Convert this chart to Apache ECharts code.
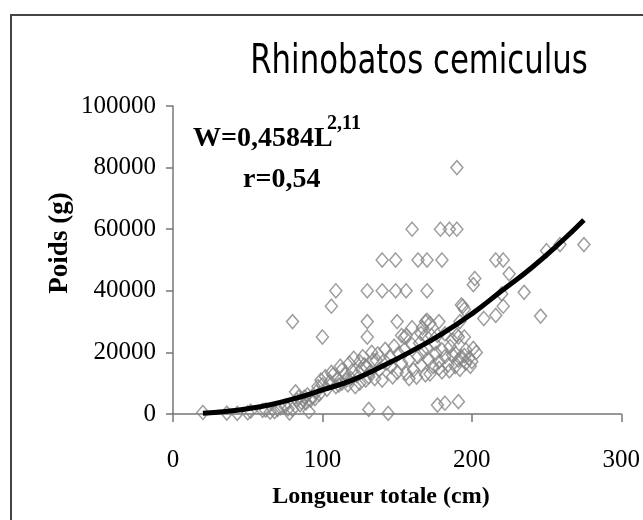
<!DOCTYPE html>
<html>
<head>
<meta charset="utf-8">
<script src="https://cdn.jsdelivr.net/npm/echarts@6/dist/echarts.min.js"></script>
<style>
  html, body { margin: 0; padding: 0; background: #fff; }
  #chart { width: 643px; height: 520px; }
</style>
</head>
<body>
<div id="chart"></div>
<script>
// longueur totale (cm) / poids (g)
var lowPoints = [
  [20, 500], [36, 300], [43, 200], [50, 400], [52, 900], [60, 1200], [62, 1300], [65, 600],
  [68, 750], [70, 1500], [72, 2000], [75, 2500], [77, 1700], [78, 300], [80, 1500], [82, 7200],
  [83, 4500], [84, 5500], [85, 3000], [86, 3800], [87, 4700], [88, 5500], [89, 3600], [90, 6200],
  [91, 750], [92, 4500], [93, 5600], [95, 5000], [98, 6500]
]
var bandPoints = [
  [96, 7200], [97, 8900], [99, 11000], [100, 9500], [102, 12100], [103, 8000], [105, 10500],
  [106, 13500], [107, 12700], [109, 8900], [110, 11500], [111, 9400], [112, 15500], [113, 10000],
  [113, 14300], [115, 13000], [116, 11000], [117, 9500], [118, 16500], [119, 11600], [120, 14000],
  [121, 18100], [122, 8900], [123, 12500], [125, 17000], [125, 10000], [126, 14500], [127, 18600],
  [128, 16000], [129, 11000], [129, 15400], [131, 12100], [132, 13500], [133, 20000], [134, 17500],
  [135, 11500], [136, 17500], [137, 19500], [138, 14300], [140, 11000], [142, 21000], [143, 16500],
  [145, 18600], [146, 15400], [147, 12100], [148, 22000], [150, 13500], [151, 19700], [153, 16500],
  [155, 21000], [156, 13200], [158, 17500], [158, 11500], [160, 22500], [161, 14300], [163, 12000],
  [164, 18600], [165, 23000], [166, 15900], [167, 20500], [169, 12700], [170, 21500], [171, 17500],
  [172, 13000], [174, 15400], [175, 23000], [176, 19700], [178, 17000], [178, 14800], [180, 13700],
  [180, 20800], [182, 18600], [184, 15900], [185, 14000], [185.5, 21900], [187, 19200], [189, 15400],
  [189, 19700], [191, 17500], [192, 14500], [193, 18600], [195, 19000], [196, 16500], [196, 20800],
  [198, 18100], [199, 15500], [200, 17000], [201, 21300], [203, 20000]
]
var highPoints = [
  [80, 30000], [100, 25000], [106, 35000], [109, 40000], [130, 40000], [130, 30000], [130, 25000],
  [140, 50000], [140, 40000], [149, 50000], [149, 40000], [150, 30000], [153, 25500], [155, 25000],
  [156, 25500], [156, 40000], [160, 60000], [160, 28000], [164, 50000], [166, 26200], [167, 28000],
  [169, 30000], [169, 25500], [170, 50000], [170, 40000], [170, 30400], [172, 29400], [173, 25500],
  [177, 25500], [178, 30000], [179, 60000], [180, 50000], [182, 26000], [185, 60000], [187, 24000],
  [190, 60000], [190, 80000], [190, 25600], [191, 25000], [192, 30000], [193, 35400], [194, 35000],
  [195, 34000], [195, 25000], [201, 42000], [202, 44000], [208, 31000], [216, 32000], [216, 50000],
  [220, 39000], [221, 35000], [221, 50000], [225, 45500], [235, 39500], [246, 31800], [250, 53000],
  [259, 55000], [275, 55000]
]
var zeroPoints = [[131, 1500], [144, 200], [177, 2900], [182, 3500], [191, 4000]]

// courbe W = 0,4584 L^2,11
var curveL = [20, 35, 50, 65, 80, 100, 120, 140, 160, 180, 200, 220, 240, 260, 275]
var curveW = [250, 800, 1700, 3000, 4800, 7800, 11000, 15500, 20500, 26000, 32500, 40000, 47500, 56000, 63000]

var xTicks = [0, 100, 200, 300]
var yTicks = [0, 20000, 40000, 60000, 80000, 100000]

var titleText = 'Rhinobatos cemiculus'
var eqMain = 'W=0,4584L'
var eqExp = '2,11'
var eqR = 'r=0,54'
var xName = 'Longueur totale (cm)'
var yName = 'Poids (g)'

var serif = "'Liberation Serif', 'Times New Roman', serif"

var scatterData = lowPoints.concat(bandPoints, highPoints, zeroPoints)
var curveData = curveL.map(function (l, i) { return [l, curveW[i]] })

var chart = echarts.init(document.getElementById('chart'))
var option = {
  animation: false,
  backgroundColor: '#fff',
  grid: { left: 173, right: 20, top: 106, bottom: 106 },
  xAxis: {
    type: 'value',
    min: xTicks[0],
    max: xTicks[xTicks.length - 1],
    interval: 100,
    splitLine: { show: false },
    axisLine: { lineStyle: { color: '#777', width: 1.5 } },
    axisTick: { length: 8, lineStyle: { color: '#777', width: 1.5 } },
    axisLabel: { color: '#000', fontFamily: serif, fontSize: 25, margin: 34, formatter: function (v) { return String(v) } }
  },
  yAxis: {
    type: 'value',
    min: yTicks[0],
    max: yTicks[yTicks.length - 1],
    interval: 20000,
    splitLine: { show: false },
    axisLine: { show: true, lineStyle: { color: '#777', width: 1.5 } },
    axisTick: { show: true, length: 7, lineStyle: { color: '#777', width: 1.5 } },
    axisLabel: { color: '#000', fontFamily: serif, fontSize: 25, margin: 17, formatter: function (v) { return String(v) } }
  },
  series: [
    {
      type: 'scatter',
      symbol: 'diamond',
      symbolSize: [12, 14],
      itemStyle: { color: 'rgba(0,0,0,0)', borderColor: '#858585', borderWidth: 1.5 },
      data: scatterData,
      z: 2
    },
    {
      type: 'line',
      smooth: true,
      showSymbol: false,
      lineStyle: { color: '#000', width: 5 },
      data: curveData,
      z: 3
    }
  ],
  graphic: [
    {
      type: 'rect',
      shape: { x: 11, y: 15, width: 700, height: 600 },
      style: { fill: 'none', stroke: '#444', lineWidth: 2 },
      z: -1
    },
    {
      type: 'text', x: 419, y: 62, scaleX: 0.75,
      style: {
        text: titleText, fill: '#000',
        font: "41px 'DejaVu Sans', sans-serif",
        textAlign: 'center', textVerticalAlign: 'middle', align: 'center', verticalAlign: 'middle'
      }
    },
    {
      type: 'text', x: 193, y: 139,
      style: {
        text: eqMain, fill: '#000', font: 'bold 28px ' + serif,
        textAlign: 'left', textVerticalAlign: 'middle', align: 'left', verticalAlign: 'middle'
      }
    },
    {
      type: 'text', x: 327, y: 124,
      style: {
        text: eqExp, fill: '#000', font: 'bold 20px ' + serif,
        textAlign: 'left', textVerticalAlign: 'middle', align: 'left', verticalAlign: 'middle'
      }
    },
    {
      type: 'text', x: 243, y: 180,
      style: {
        text: eqR, fill: '#000', font: 'bold 28px ' + serif,
        textAlign: 'left', textVerticalAlign: 'middle', align: 'left', verticalAlign: 'middle'
      }
    },
    {
      type: 'text', x: 381, y: 497,
      style: {
        text: xName, fill: '#000', font: 'bold 24px ' + serif,
        textAlign: 'center', textVerticalAlign: 'middle', align: 'center', verticalAlign: 'middle'
      }
    },
    {
      type: 'text', x: 60, y: 243, rotation: Math.PI / 2,
      style: {
        text: yName, fill: '#000', font: 'bold 27px ' + serif,
        textAlign: 'center', textVerticalAlign: 'middle', align: 'center', verticalAlign: 'middle'
      }
    }
  ]
}
chart.setOption(option)
</script>
</body>
</html>
